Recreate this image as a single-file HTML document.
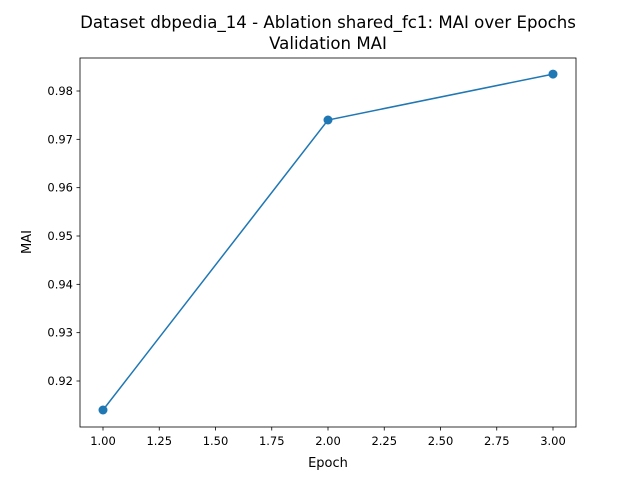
<!DOCTYPE html>
<html><head><meta charset="utf-8"><style>body{margin:0;background:#fff}svg{display:block;font-family:"DejaVu Sans","Liberation Sans",sans-serif}</style></head>
<body>
<svg id="chart" width="640" height="480">
<rect x="0" y="0" width="640" height="480" fill="#fff"/>
<text x="328" y="28" font-size="16.6" text-anchor="middle">Dataset dbpedia_14 - Ablation shared_fc1: MAI over Epochs</text>
<text x="328" y="49" font-size="16.6" text-anchor="middle">Validation MAI</text>
<g id="ticks"></g>
<g id="plot"></g>
<rect x="80" y="58" width="496" height="369" fill="none" stroke="#000" stroke-width="0.8"/>
<text x="328" y="467" font-size="13" text-anchor="middle">Epoch</text>
<text x="31" y="242" font-size="13" text-anchor="middle" transform="rotate(-90 31 242)">MAI</text>
</svg>
<script>
const epochs=[1,2,3];
const maiValues=[0.914,0.974,0.9835];
const xTicks=[1.0,1.25,1.5,1.75,2.0,2.25,2.5,2.75,3.0];
const yTicks=[0.92,0.93,0.94,0.95,0.96,0.97,0.98];
const NS="http://www.w3.org/2000/svg";
function xs(v){return 103+(v-1)*225;}
function ys(v){return 381-(v-0.92)*4833.3;}
function mk(t,a,p){const e=document.createElementNS(NS,t);for(const k in a)e.setAttribute(k,a[k]);p.appendChild(e);return e;}
const tg=document.getElementById('ticks'),pg=document.getElementById('plot');
xTicks.forEach(v=>{
 const l=mk('line',{x1:xs(v),x2:xs(v),y1:427,y2:430.5,stroke:'#000','stroke-width':0.8},tg);
 
 
 const t=mk('text',{x:xs(v),y:445,'font-size':11.5,'text-anchor':'middle'},tg);t.textContent=v.toFixed(2);
 
 
});
yTicks.forEach(v=>{
 const l=mk('line',{x1:76.5,x2:80,y1:ys(v),y2:ys(v),stroke:'#000','stroke-width':0.8},tg);
 
 
 const t=mk('text',{x:73,y:ys(v)+4,'font-size':11.5,'text-anchor':'end'},tg);t.textContent=v.toFixed(2);
 
 
});
const pts=epochs.map((e,i)=>xs(e)+','+ys(maiValues[i])).join(' ');
const pl=mk('polyline',{points:pts,fill:'none',stroke:'#1f77b4','stroke-width':1.5},pg);


epochs.forEach((e,i)=>{
 const c=mk('circle',{cx:xs(e),cy:ys(maiValues[i]),r:4.5,fill:'#1f77b4'},pg);
 
 
});
</script>
</body></html>
